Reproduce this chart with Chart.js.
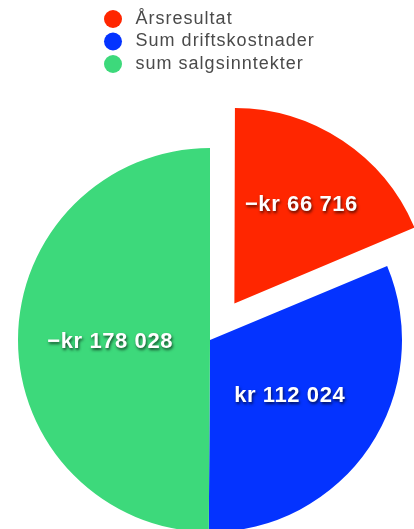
<!DOCTYPE html>
<html>
<head>
<meta charset="utf-8">
<script src="https://cdn.jsdelivr.net/npm/chart.js@4"></script>
<style>
  html, body { margin: 0; padding: 0; background: #fff; overflow: hidden; }
  #wrap { width: 414px; height: 597px; }
</style>
</head>
<body>
<div id="wrap"><canvas id="pieChart"></canvas></div>
<script>
const labels = ["Årsresultat", "Sum driftskostnader", "sum salgsinntekter"];
const values = [-66716, 112024, -178028];
const colors = ["#FF2600", "#0433FF", "#3DD97B"];
const offsets = [176, 0, 0];

// Norwegian style: −kr 66 716
const formatKr = (v) => {
  const digits = Math.abs(v).toString().replace(/\B(?=(\d{3})+(?!\d))/g, " ");
  return (v < 0 ? "\u2212" : "") + "kr " + digits;
};

// a little tracking so the text is as wide as the original
const tracking = {
  id: "tracking",
  beforeLayout(chart) { chart.ctx.letterSpacing = "1px"; },
  beforeDraw(chart) { chart.ctx.letterSpacing = "1px"; }
};

// draws value labels inside slices
const sliceLabels = {
  id: "sliceLabels",
  afterDatasetsDraw(chart, args, opts) {
    const ctx = chart.ctx;
    const meta = chart.getDatasetMeta(0);
    ctx.save();
    ctx.font = opts.font;
    ctx.letterSpacing = "0.6px";
    ctx.fillStyle = "#fff";
    ctx.textAlign = "center";
    ctx.textBaseline = "middle";
    ctx.shadowColor = "rgba(0,0,0,0.65)";
    ctx.shadowBlur = 3;
    ctx.shadowOffsetX = 1;
    ctx.shadowOffsetY = 2;
    meta.data.forEach((arc, i) => {
      const p = arc.getProps(["x", "y", "startAngle", "endAngle", "outerRadius"], true);
      const mid = (p.startAngle + p.endAngle) / 2;
      // chart.js moves an offset arc by offset / 4
      const dist = (arc.options.offset || 0) / 4 + p.outerRadius * opts.radius[i];
      const tx = p.x + Math.cos(mid) * dist;
      const ty = p.y + Math.sin(mid) * dist + 2.5;
      ctx.fillText(formatKr(values[i]), tx, ty);
    });
    ctx.restore();
  }
};

new Chart(document.getElementById("pieChart"), {
  type: "pie",
  data: {
    labels: labels,
    datasets: [{
      data: values,
      backgroundColor: colors,
      borderWidth: 0,
      offset: offsets,
      clip: false
    }]
  },
  options: {
    responsive: true,
    maintainAspectRatio: false,
    animation: false,
    radius: 192,
    layout: { padding: { top: 5.5, left: 99.5, right: 93.5, bottom: 0 } },
    plugins: {
      tooltip: { enabled: false },
      legend: {
        position: "top",
        align: "start",
        labels: {
          usePointStyle: true,
          pointStyle: "circle",
          boxHeight: 12.73,
          pointStyleWidth: 18,
          padding: 4.5,
          color: "#4a4a4a",
          font: { family: "'Liberation Sans', Arial, sans-serif", size: 18 },
          generateLabels(chart) {
            const items = Chart.overrides.pie.plugins.legend.labels.generateLabels(chart);
            items.forEach((it) => { it.text = "\u2009" + it.text; });
            return items;
          }
        }
      },
      sliceLabels: {
        font: "bold 22px 'Liberation Sans', Arial, sans-serif",
        radius: [0.63, 0.5, 0.52]
      }
    }
  },
  plugins: [tracking, sliceLabels]
});
</script>
</body>
</html>
